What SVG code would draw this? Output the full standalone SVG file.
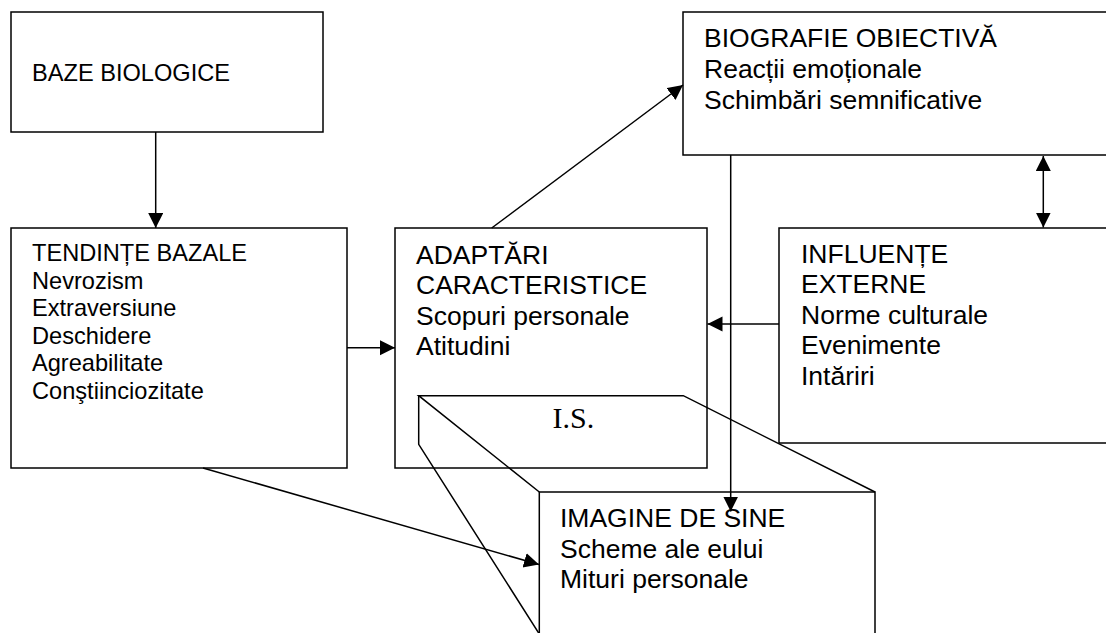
<svg xmlns="http://www.w3.org/2000/svg" width="1106" height="633" viewBox="0 0 1106 633">
<style>
.box{fill:none;stroke:#000;stroke-width:1.5}
.ln{fill:none;stroke:#000;stroke-width:1.5}
.t{font-family:"Liberation Sans",Arial,sans-serif;fill:#000}
.s{font-size:23.6px}
.m{font-size:26.5px}
.serif{font-family:"Liberation Serif","Times New Roman",serif;font-size:30px;fill:#000}
</style>
<defs>
<marker id="ah" markerUnits="userSpaceOnUse" markerWidth="16" markerHeight="16" refX="15" refY="7.5" orient="auto-start-reverse" viewBox="0 0 16 16">
<path d="M0,0 L15,7.5 L0,15 z" fill="#000"/>
</marker>
</defs>
<rect width="1106" height="633" fill="#fff"/>
<g id="baze">
<rect class="box" x="11" y="12" width="312" height="120"/>
<text class="t s" x="32" y="81">BAZE BIOLOGICE</text>
</g>
<g id="tendinte">
<rect class="box" x="11" y="228" width="336" height="240"/>
<text class="t s" x="32" y="261">TENDINȚE BAZALE</text>
<text class="t s" x="32" y="288.5">Nevrozism</text>
<text class="t s" x="32" y="316">Extraversiune</text>
<text class="t s" x="32" y="343.5">Deschidere</text>
<text class="t s" x="32" y="371">Agreabilitate</text>
<text class="t s" x="32" y="398.5">Conştiinciozitate</text>
</g>
<g id="adaptari">
<rect class="box" x="395" y="228" width="312" height="240"/>
<text class="t m" x="416" y="263.5">ADAPTĂRI</text>
<text class="t m" x="416" y="294">CARACTERISTICE</text>
<text class="t m" x="416" y="324.5">Scopuri personale</text>
<text class="t m" x="416" y="355">Atitudini</text>
</g>
<g id="biografie">
<rect class="box" x="683" y="12" width="440" height="143"/>
<text class="t m" x="704" y="46.5">BIOGRAFIE OBIECTIVĂ</text>
<text class="t m" x="704" y="77.5">Reacții emoționale</text>
<text class="t m" x="704" y="108.5">Schimbări semnificative</text>
</g>
<g id="influente">
<rect class="box" x="779" y="228" width="340" height="215"/>
<text class="t m" x="801" y="262.5">INFLUENȚE</text>
<text class="t m" x="801" y="293">EXTERNE</text>
<text class="t m" x="801" y="323.5">Norme culturale</text>
<text class="t m" x="801" y="354">Evenimente</text>
<text class="t m" x="801" y="384.5">Intăriri</text>
</g>
<g id="imagine">
<path class="ln" d="M539.3,640 L539.3,492 L875,492 L875,640"/>
<path class="ln" d="M539.3,492 L418.7,395.7 L683.3,395.7 L875,492"/>
<path class="ln" d="M418.7,395.7 L418.7,444.3 L539.3,634"/>
<text class="serif" x="552.5" y="428">I.S.</text>
<text class="t m" x="560" y="527">IMAGINE DE SINE</text>
<text class="t m" x="560" y="557.5">Scheme ale eului</text>
<text class="t m" x="560" y="588">Mituri personale</text>
</g>
<g id="connectors">
<line class="ln" x1="155.7" y1="132" x2="155.7" y2="228" marker-end="url(#ah)"/>
<line class="ln" x1="347" y1="347.7" x2="395" y2="347.7" marker-end="url(#ah)"/>
<line class="ln" x1="779" y1="324" x2="707.5" y2="324" marker-end="url(#ah)"/>
<line class="ln" x1="491.7" y1="228" x2="683" y2="85" marker-end="url(#ah)"/>
<line class="ln" x1="1043.3" y1="156" x2="1043.3" y2="227.5" marker-start="url(#ah)" marker-end="url(#ah)"/>
<line class="ln" x1="730.7" y1="155" x2="730.7" y2="511.5" marker-end="url(#ah)"/>
<line class="ln" x1="203" y1="468" x2="539" y2="564.5" marker-end="url(#ah)"/>
</g>
</svg>
